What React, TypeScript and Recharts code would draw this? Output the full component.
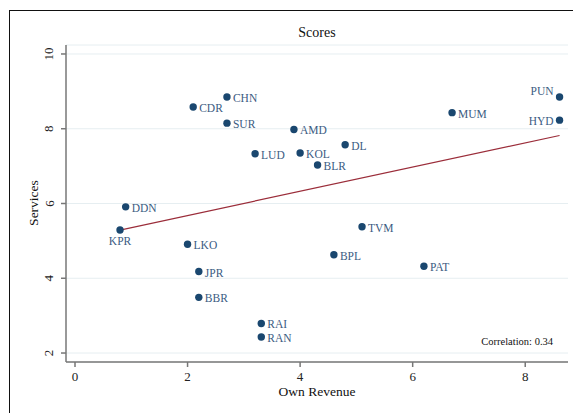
import React from "react";
import { ScatterChart, Scatter, XAxis, YAxis, CartesianGrid } from "recharts";

const cities = ["CHN", "CDR", "SUR", "AMD", "LUD", "KOL", "BLR", "DL", "MUM", "PUN", "HYD", "DDN", "KPR", "LKO", "JPR", "BBR", "RAI", "RAN", "TVM", "BPL", "PAT"];
const ownRevenue = [2.7, 2.1, 2.7, 3.89, 3.2, 4.0, 4.31, 4.8, 6.7, 8.61, 8.61, 0.9, 0.8, 2.0, 2.2, 2.2, 3.31, 3.31, 5.1, 4.6, 6.2];
const services = [8.85, 8.58, 8.15, 7.98, 7.33, 7.35, 7.03, 7.57, 8.43, 8.85, 8.23, 5.91, 5.29, 4.91, 4.18, 3.49, 2.79, 2.43, 5.38, 4.63, 4.32];

// fitted line endpoints
const fitX = [0.8, 8.61];
const fitY = [5.29, 7.82];

const xTicks = [0, 2, 4, 6, 8];
const yTicks = [2, 4, 6, 8, 10];
const correlation = "0.34";

// where the marker label sits, default is right of the dot
const labelSide: Record<string, string> = { PUN: "upLeft", HYD: "left", KPR: "below" };

const FONT = "'Liberation Serif', 'Times New Roman', serif";
const NAVY = "#1a476f";
const LABEL = "#3b5b82";

const points = cities.map((name, i) => ({ name, x: ownRevenue[i], y: services[i] }));
const fitLine = fitX.map((x, i) => ({ x, y: fitY[i] }));

function CityDot(props: any) {
  const { cx, cy, payload } = props;
  const side = labelSide[payload.name];
  let tx = cx + 6;
  let ty = cy + 1;
  let anchor: "start" | "end" | "middle" = "start";
  if (side === "left") {
    tx = cx - 6;
    anchor = "end";
  } else if (side === "upLeft") {
    tx = cx - 6;
    ty = cy - 6;
    anchor = "end";
  } else if (side === "below") {
    tx = cx;
    ty = cy + 11;
    anchor = "middle";
  }
  return (
    <g>
      <circle cx={cx} cy={cy} r={3.7} fill={NAVY} />
      <text x={tx} y={ty} textAnchor={anchor} dominantBaseline="central" fontSize={11.5} fontFamily={FONT} fill={LABEL}>
        {payload.name}
      </text>
    </g>
  );
}

function YTick(props: any) {
  const { x, y, payload } = props;
  return (
    <text x={x} y={y} transform={`rotate(-90, ${x}, ${y})`} textAnchor="middle" dominantBaseline="central" fontSize={13} fontFamily={FONT} fill="#222">
      {payload.value}
    </text>
  );
}

export default function App() {
  return (
    <div style={{ position: "fixed", left: 0, top: 0, width: 573, height: 413, overflow: "hidden", background: "#fff", fontFamily: FONT }}>
      <div style={{ position: "absolute", left: 9, top: 10, width: 600, height: 450, border: "1.4px solid #111", boxSizing: "border-box" }} />
      <div style={{ position: "absolute", left: 0, top: 0 }}>
        <ScatterChart width={573} height={413} margin={{ top: 45, right: 5, bottom: 0, left: 0 }}>
          <CartesianGrid horizontal vertical={false} stroke="#e6eef1" strokeWidth={1} />
          <XAxis
            type="number"
            dataKey="x"
            domain={[-0.16, 8.76]}
            ticks={xTicks}
            height={51}
            tickSize={5}
            tickMargin={5}
            stroke="#777"
            strokeWidth={1.5}
            tick={{ fill: "#222", fontSize: 13, fontFamily: FONT }}
            allowDataOverflow
          />
          <YAxis
            type="number"
            dataKey="y"
            domain={[1.76, 10.24]}
            ticks={yTicks}
            width={66}
            tickSize={5}
            tickMargin={12}
            stroke="#777"
            strokeWidth={1.5}
            tick={<YTick />}
            allowDataOverflow
          />
          <Scatter
            data={fitLine}
            line={{ stroke: "#9b2d3a", strokeWidth: 1.2 }}
            shape={() => <g />}
            isAnimationActive={false}
          />
          <Scatter data={points} shape={<CityDot />} isAnimationActive={false} />
        </ScatterChart>
      </div>
      <div style={{ position: "absolute", left: 217, width: 200, top: 24, textAlign: "center", fontSize: 14, lineHeight: "18px", color: "#111" }}>
        Scores
      </div>
      <div style={{ position: "absolute", left: 217, width: 200, top: 383, textAlign: "center", fontSize: 13.5, lineHeight: "18px", color: "#111" }}>
        Own Revenue
      </div>
      <div style={{ position: "absolute", left: -66, top: 194, width: 200, textAlign: "center", fontSize: 13.5, lineHeight: "18px", color: "#111", transform: "rotate(-90deg)" }}>
        Services
      </div>
      <div style={{ position: "absolute", right: 20, top: 334, fontSize: 10.5, lineHeight: "16px", color: "#111" }}>
        Correlation: {correlation}
      </div>
    </div>
  );
}
